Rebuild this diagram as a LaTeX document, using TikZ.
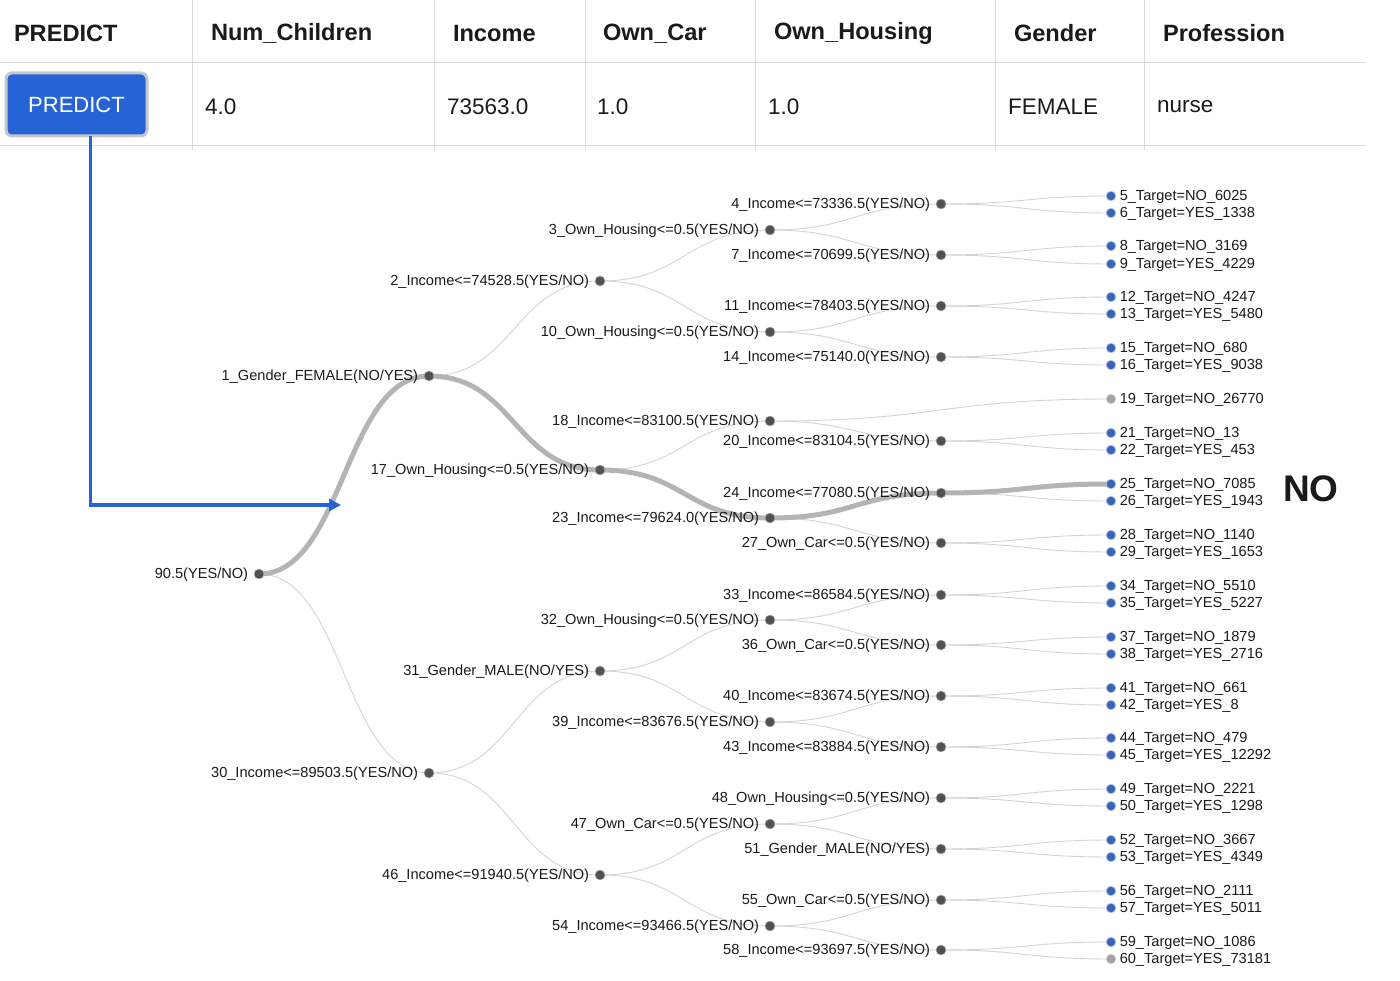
\documentclass[tikz,border=0pt]{standalone}
\usepackage{fontspec}
\setmainfont{Liberation Sans}
\usetikzlibrary{backgrounds,calc,arrows.meta}
\definecolor{tblline}{HTML}{D9DAE0}
\definecolor{btnblue}{HTML}{2563D6}
\definecolor{btnring}{HTML}{C5C7CF}
\definecolor{edgegray}{HTML}{D4D4D4}
\definecolor{hlgray}{HTML}{B3B5B3}
\definecolor{dotgray}{HTML}{505055}
\definecolor{leafblue}{HTML}{3A64B8}
\definecolor{leafgray}{HTML}{A3A3A3}
\definecolor{txt}{HTML}{1A1A1A}
\newcommand\inode[4]{\node[dotnode] (#1) at (#2,#3) {};
  \node[lbl, anchor=east] (#1l) at ([xshift=-6pt,yshift=-1pt]#1.west) {#4};}
\newcommand\leaf[5][leafnode]{\node[#1] (L#2) at (1111,#3) {};
  \node[lbl, anchor=west] (L#2l) at ([xshift=4pt,yshift=-1pt]L#2.east) {#2\_Target=#4\_#5};}
\newcommand\lnk[3][edge]{\draw[#1] let \p1=(#2.center), \p2=(#3.center) in
  (\p1) .. controls ({(\x1+\x2)/2},\y1) and ({(\x1+\x2)/2},\y2) .. (\p2);}
\begin{document}
\begin{tikzpicture}[x=1pt,y=-1pt,
 every node/.style={inner sep=0pt, outer sep=0pt},
 dotnode/.style={circle, fill=dotgray, minimum size=9.8pt, draw=dotgray!55, line width=0.6pt},
 leafnode/.style={circle, fill=leafblue, minimum size=9.5pt, draw=white!60!leafblue, line width=0.6pt},
 grayleaf/.style={leafnode, fill=leafgray, draw=leafgray!55},
 lbl/.style={font=\fontsize{14.6}{17}\selectfont, text=txt},
 edge/.style={draw=edgegray, line width=0.9pt},
 hl/.style={draw=hlgray, line width=5pt},
 hdr/.style={font=\fontsize{23.6}{27}\selectfont\bfseries, anchor=west, text=txt},
 cell/.style={font=\fontsize{22.5}{26}\selectfont, anchor=west, text=txt},
 tline/.style={draw=tblline, line width=1pt},
 bluearr/.style={draw=btnblue, line width=3.6pt, -{Triangle[length=12pt,width=12pt]}},
 ]
\useasboundingbox (0,0) rectangle (1400,981);
% table
\draw[tline] (0,63) -- (1366,63);
\draw[tline] (0,146) -- (1366,146);
\foreach \cx in {192,434,585,755,995,1144} {\draw[tline] (\cx,0) -- (\cx,150);}
\node[hdr] (h1) at (14,33.5) {PREDICT};
\node[hdr] (h2) at (211,33.5) {Num\_Children};
\node[hdr] (h3) at (453,33.5) {Income};
\node[hdr] (h4) at (603,33.5) {Own\_Car};
\node[hdr] (h5) at (774,33.5) {Own\_Housing};
\node[hdr] (h6) at (1014,33.5) {Gender};
\node[hdr] (h7) at (1163,33.5) {Profession};
\node[draw=btnring, line width=3pt, fill=btnblue, rounded corners=6pt,
  minimum width=141pt, minimum height=63pt, text=white,
  font=\fontsize{22}{26}\selectfont] (btn) at (76.5,104.5) {\raisebox{-1pt}{PREDICT}};
\node[cell] (c2) at (205,106.5) {4.0};
\node[cell] (c3) at (447,106.5) {73563.0};
\node[cell] (c4) at (597,106.5) {1.0};
\node[cell] (c5) at (768,106.5) {1.0};
\node[cell] (c6) at (1008,106.5) {FEMALE};
\node[cell] (c7) at (1157,106.5) {nurse};
% tree internal nodes
\inode{n0}{259}{574}{90.5(YES/NO)}
\inode{n1}{429}{376}{1\_Gender\_FEMALE(NO/YES)}
\inode{n30}{429}{773}{30\_Income<=89503.5(YES/NO)}
\inode{n2}{600}{281}{2\_Income<=74528.5(YES/NO)}
\inode{n17}{600}{470}{17\_Own\_Housing<=0.5(YES/NO)}
\inode{n31}{600}{671}{31\_Gender\_MALE(NO/YES)}
\inode{n46}{600}{875}{46\_Income<=91940.5(YES/NO)}
\inode{n3}{770}{230}{3\_Own\_Housing<=0.5(YES/NO)}
\inode{n10}{770}{332}{10\_Own\_Housing<=0.5(YES/NO)}
\inode{n18}{770}{421}{18\_Income<=83100.5(YES/NO)}
\inode{n23}{770}{518}{23\_Income<=79624.0(YES/NO)}
\inode{n32}{770}{620}{32\_Own\_Housing<=0.5(YES/NO)}
\inode{n39}{770}{722}{39\_Income<=83676.5(YES/NO)}
\inode{n47}{770}{824}{47\_Own\_Car<=0.5(YES/NO)}
\inode{n54}{770}{926}{54\_Income<=93466.5(YES/NO)}
\inode{n4}{941}{204}{4\_Income<=73336.5(YES/NO)}
\inode{n7}{941}{255}{7\_Income<=70699.5(YES/NO)}
\inode{n11}{941}{306}{11\_Income<=78403.5(YES/NO)}
\inode{n14}{941}{357}{14\_Income<=75140.0(YES/NO)}
\inode{n20}{941}{441}{20\_Income<=83104.5(YES/NO)}
\inode{n24}{941}{493}{24\_Income<=77080.5(YES/NO)}
\inode{n27}{941}{543}{27\_Own\_Car<=0.5(YES/NO)}
\inode{n33}{941}{595}{33\_Income<=86584.5(YES/NO)}
\inode{n36}{941}{645}{36\_Own\_Car<=0.5(YES/NO)}
\inode{n40}{941}{696}{40\_Income<=83674.5(YES/NO)}
\inode{n43}{941}{747}{43\_Income<=83884.5(YES/NO)}
\inode{n48}{941}{798}{48\_Own\_Housing<=0.5(YES/NO)}
\inode{n51}{941}{849}{51\_Gender\_MALE(NO/YES)}
\inode{n55}{941}{900}{55\_Own\_Car<=0.5(YES/NO)}
\inode{n58}{941}{950}{58\_Income<=93697.5(YES/NO)}
% leaves
\leaf{5}{196}{NO}{6025}
\leaf{6}{213}{YES}{1338}
\leaf{8}{246}{NO}{3169}
\leaf{9}{264}{YES}{4229}
\leaf{12}{297}{NO}{4247}
\leaf{13}{314}{YES}{5480}
\leaf{15}{348}{NO}{680}
\leaf{16}{365}{YES}{9038}
\leaf[grayleaf]{19}{399}{NO}{26770}
\leaf{21}{433}{NO}{13}
\leaf{22}{450}{YES}{453}
\leaf{25}{484}{NO}{7085}
\leaf{26}{501}{YES}{1943}
\leaf{28}{535}{NO}{1140}
\leaf{29}{552}{YES}{1653}
\leaf{34}{586}{NO}{5510}
\leaf{35}{603}{YES}{5227}
\leaf{37}{637}{NO}{1879}
\leaf{38}{654}{YES}{2716}
\leaf{41}{688}{NO}{661}
\leaf{42}{705}{YES}{8}
\leaf{44}{738}{NO}{479}
\leaf{45}{755}{YES}{12292}
\leaf{49}{789}{NO}{2221}
\leaf{50}{806}{YES}{1298}
\leaf{52}{840}{NO}{3667}
\leaf{53}{857}{YES}{4349}
\leaf{56}{891}{NO}{2111}
\leaf{57}{908}{YES}{5011}
\leaf{59}{942}{NO}{1086}
\leaf[grayleaf]{60}{959}{YES}{73181}
% result
\node[font=\fontsize{37}{42}\selectfont\bfseries, text=txt] (res) at (1311,489) {NO};
% edges
\begin{scope}[on background layer]
\fill[white] (0,0) rectangle (1400,981);
\lnk{n0}{n30}
\lnk{n1}{n2}
\lnk{n30}{n31}\lnk{n30}{n46}
\lnk{n2}{n3}\lnk{n2}{n10}
\lnk{n17}{n18}
\lnk{n31}{n32}\lnk{n31}{n39}
\lnk{n46}{n47}\lnk{n46}{n54}
\lnk{n3}{n4}\lnk{n3}{n7}
\lnk{n10}{n11}\lnk{n10}{n14}
\lnk{n18}{L19}\lnk{n18}{n20}
\lnk{n23}{n27}
\lnk{n32}{n33}\lnk{n32}{n36}
\lnk{n39}{n40}\lnk{n39}{n43}
\lnk{n47}{n48}\lnk{n47}{n51}
\lnk{n54}{n55}\lnk{n54}{n58}
\lnk{n4}{L5}\lnk{n4}{L6}
\lnk{n7}{L8}\lnk{n7}{L9}
\lnk{n11}{L12}\lnk{n11}{L13}
\lnk{n14}{L15}\lnk{n14}{L16}
\lnk{n20}{L21}\lnk{n20}{L22}
\lnk{n24}{L26}
\lnk{n27}{L28}\lnk{n27}{L29}
\lnk{n33}{L34}\lnk{n33}{L35}
\lnk{n36}{L37}\lnk{n36}{L38}
\lnk{n40}{L41}\lnk{n40}{L42}
\lnk{n43}{L44}\lnk{n43}{L45}
\lnk{n48}{L49}\lnk{n48}{L50}
\lnk{n51}{L52}\lnk{n51}{L53}
\lnk{n55}{L56}\lnk{n55}{L57}
\lnk{n58}{L59}\lnk{n58}{L60}
\lnk[hl]{n0}{n1}
\lnk[hl]{n1}{n17}
\lnk[hl]{n17}{n23}
\lnk[hl]{n23}{n24}
\lnk[hl]{n24}{L25}
\end{scope}
% arrow from button
\coordinate (tip) at (341,505);
\draw[bluearr] ([xshift=14pt]btn.south) |- (tip);
\end{tikzpicture}
\end{document}
